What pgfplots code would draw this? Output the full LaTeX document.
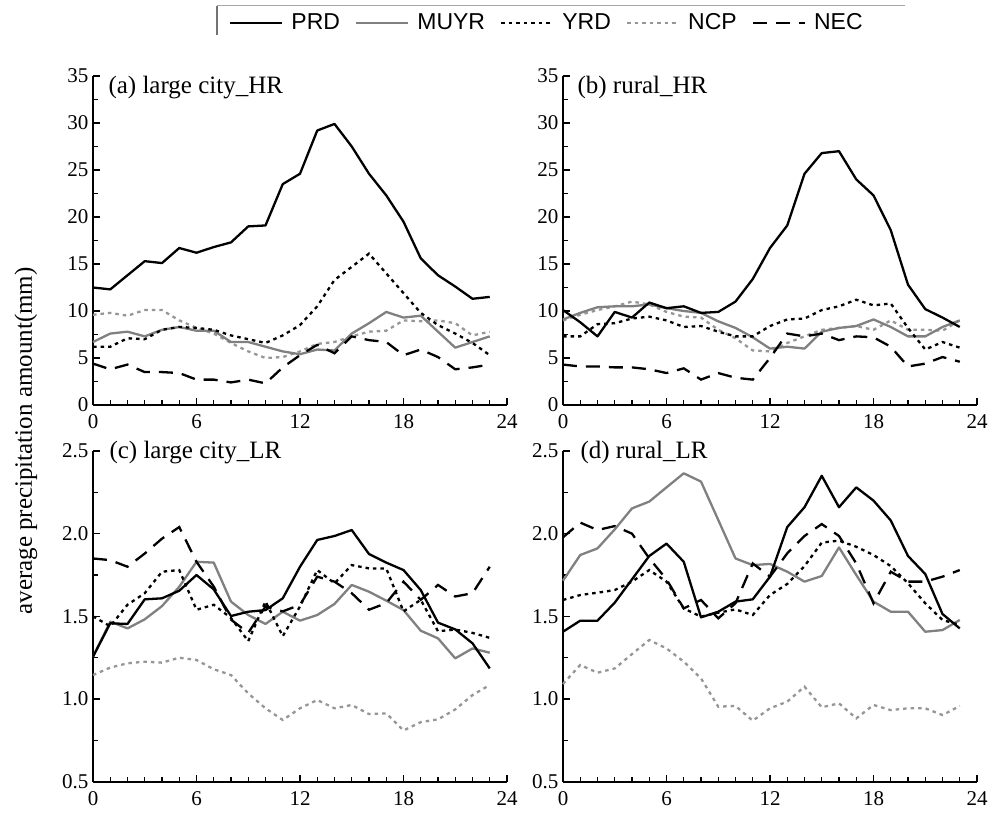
\documentclass[border=0pt]{standalone}
\usepackage{fontspec}
\setmainfont{Liberation Serif}
\newfontfamily\legfont{Liberation Sans}
\usepackage{pgfplots}
\usepackage{pgfplotstable}
\pgfplotsset{compat=1.18}

\definecolor{muyrgray}{RGB}{128,128,128}
\definecolor{ncpgray}{RGB}{150,150,150}

% (a) large city, HR
\pgfplotstableread{
h PRD MUYR YRD NCP NEC
0 12.5 6.7 6.2 9.6 4.4
1 12.3 7.6 6.2 9.8 3.8
2 13.8 7.8 7.1 9.5 4.3
3 15.3 7.3 7.0 10.1 3.5
4 15.1 8.0 8.0 10.1 3.5
5 16.7 8.3 8.3 9.0 3.4
6 16.2 7.9 8.2 8.2 2.7
7 16.8 7.9 8.0 7.6 2.7
8 17.3 6.7 7.4 6.6 2.4
9 19.0 6.7 7.0 5.7 2.7
10 19.1 6.2 6.6 5.0 2.3
11 23.5 5.7 7.4 5.1 4.0
12 24.6 5.4 8.5 5.7 5.3
13 29.2 5.9 10.5 6.5 6.4
14 29.9 5.8 13.3 6.7 5.5
15 27.5 7.6 14.7 7.3 7.3
16 24.6 8.7 16.1 7.8 6.9
17 22.3 9.9 14.0 7.9 6.7
18 19.5 9.3 11.9 9.0 5.3
19 15.6 9.5 9.8 8.9 5.9
20 13.8 7.8 8.5 9.0 5.1
21 12.6 6.1 7.6 8.7 3.8
22 11.3 6.7 6.6 7.4 4.0
23 11.5 7.3 5.3 7.8 4.3
}\tabA

% (b) rural, HR
\pgfplotstableread{
h PRD MUYR YRD NCP NEC
0 10.1 9.1 7.3 9.0 4.3
1 8.8 9.8 7.3 9.6 4.1
2 7.3 10.4 8.6 10.1 4.1
3 9.9 10.5 8.7 10.5 4.0
4 9.3 10.5 9.2 11.0 4.0
5 10.9 10.7 9.4 10.7 3.8
6 10.3 10.3 9.0 9.9 3.4
7 10.5 10.0 8.3 9.4 3.9
8 9.8 9.8 8.4 9.3 2.7
9 9.9 8.9 7.8 8.0 3.4
10 11.0 8.2 7.3 7.1 2.9
11 13.4 7.2 7.3 5.8 2.7
12 16.7 6.0 8.4 5.7 5.0
13 19.1 6.2 9.1 6.6 7.6
14 24.6 6.0 9.2 7.3 7.3
15 26.8 7.8 10.1 8.0 7.6
16 27.0 8.2 10.5 8.2 6.9
17 24.0 8.4 11.2 8.4 7.3
18 22.3 9.1 10.6 8.0 7.2
19 18.6 8.3 10.8 9.0 6.2
20 12.8 7.3 8.2 8.0 4.1
21 10.2 7.3 5.9 8.0 4.4
22 9.3 8.3 6.7 7.9 5.1
23 8.3 9.0 6.1 9.0 4.6
}\tabB

% (c) large city, LR
\pgfplotstableread{
h PRD MUYR YRD NCP NEC
0 1.256 1.256 1.50 1.145 1.85
1 1.458 1.468 1.44 1.19 1.84
2 1.454 1.427 1.57 1.216 1.80
3 1.603 1.482 1.64 1.226 1.88
4 1.609 1.562 1.77 1.22 1.97
5 1.655 1.679 1.78 1.25 2.04
6 1.75 1.83 1.54 1.236 1.83
7 1.663 1.825 1.57 1.18 1.68
8 1.502 1.589 1.49 1.145 1.48
9 1.528 1.508 1.35 1.034 1.40
10 1.538 1.454 1.59 0.944 1.56
11 1.609 1.528 1.38 0.873 1.53
12 1.80 1.474 1.56 0.944 1.57
13 1.962 1.508 1.78 0.994 1.74
14 1.986 1.575 1.70 0.944 1.71
15 2.022 1.69 1.81 0.964 1.64
16 1.877 1.649 1.79 0.909 1.54
17 1.825 1.595 1.79 0.913 1.58
18 1.78 1.538 1.53 0.81 1.71
19 1.659 1.413 1.60 0.86 1.60
20 1.462 1.367 1.41 0.877 1.69
21 1.421 1.246 1.42 0.937 1.62
22 1.337 1.306 1.40 1.024 1.64
23 1.185 1.28 1.37 1.085 1.80
}\tabC

% (d) rural, LR
\pgfplotstableread{
h PRD MUYR YRD NCP NEC
0 1.407 1.716 1.599 1.091 1.978
1 1.474 1.871 1.629 1.206 2.067
2 1.474 1.911 1.643 1.159 2.022
3 1.583 2.026 1.659 1.185 2.046
4 1.724 2.153 1.71 1.272 2.0
5 1.865 2.194 1.78 1.357 1.851
6 1.94 2.28 1.71 1.306 1.724
7 1.83 2.365 1.548 1.226 1.548
8 1.494 2.315 1.498 1.125 1.599
9 1.528 2.083 1.522 0.954 1.488
10 1.589 1.85 1.542 0.958 1.579
11 1.603 1.81 1.508 0.869 1.82
12 1.74 1.817 1.629 0.944 1.74
13 2.04 1.77 1.696 0.984 1.881
14 2.16 1.71 1.804 1.075 1.986
15 2.35 1.744 1.946 0.95 2.058
16 2.16 1.917 1.958 0.974 1.986
17 2.28 1.75 1.921 0.883 1.82
18 2.20 1.589 1.871 0.964 1.579
19 2.08 1.528 1.804 0.933 1.77
20 1.865 1.528 1.70 0.944 1.71
21 1.756 1.407 1.579 0.944 1.71
22 1.514 1.417 1.478 0.903 1.74
23 1.427 1.478 1.448 0.958 1.78
}\tabD

\pgfplotsset{
  prd/.style={black, line width=2.3pt, line join=round},
  muyr/.style={muyrgray, line width=2.3pt, line join=round},
  yrd/.style={black, line width=2.3pt, dash pattern=on 3.5pt off 4pt},
  ncp/.style={ncpgray, line width=2.3pt, dash pattern=on 3.5pt off 4pt},
  nec/.style={black, line width=2.3pt, dash pattern=on 14pt off 9pt},
  panel/.style={
    scale only axis, width=414pt, anchor=south west,
    xmin=0, xmax=24, xtick={0,6,12,18,24}, minor x tick num=5,
    axis x line*=bottom, axis y line*=left,
    axis line style={line width=2.4pt, -},
    tick align=inside, major tick length=7pt, minor tick length=5pt,
    tick style={black, line width=1.4pt},
    tick label style={font=\fontsize{21}{25}\selectfont},
    xticklabel style={yshift=-6pt},
    yticklabel style={xshift=-1pt},
    /pgf/number format/assume math mode=true,
    clip=false,
  },
  hr/.style={panel, height=329pt, ymin=0, ymax=35, ytick={0,5,...,35}, minor y tick num=1},
  lr/.style={panel, height=330.7pt, ymin=0.5, ymax=2.5, ytick={0.5,1.0,...,2.5}, minor y tick num=1,
    yticklabel style={/pgf/number format/fixed, /pgf/number format/fixed zerofill, /pgf/number format/precision=1}},
}

\newcommand{\allseries}[1]{%
  \addplot[ncp, forget plot] table[x=h, y=NCP] {#1};
  \addplot[muyr, forget plot] table[x=h, y=MUYR] {#1};
  \addplot[nec, forget plot] table[x=h, y=NEC] {#1};
  \addplot[yrd, forget plot] table[x=h, y=YRD] {#1};
  \addplot[prd, forget plot] table[x=h, y=PRD] {#1};
}

\begin{document}
\begin{tikzpicture}
\useasboundingbox (0,0) rectangle (999pt,812pt);

\begin{axis}[hr, at={(93pt,407pt)},
  legend style={at={(0.2995,1.162)}, anchor=west, draw=none, fill=none,
    font=\legfont\fontsize{23}{27}\selectfont, legend columns=5,
    /tikz/every odd column/.append style={column sep=6pt},
    /tikz/every even column/.append style={column sep=13pt}, inner xsep=12pt},
  legend image code/.code={\draw[#1] (0pt,0pt) -- (52pt,0pt);},
]
  \addlegendimage{prd} \addlegendentry{PRD}
  \addlegendimage{muyr} \addlegendentry{MUYR}
  \addlegendimage{yrd} \addlegendentry{YRD}
  \addlegendimage{ncp} \addlegendentry{NCP}
  \addlegendimage{nec} \addlegendentry{NEC}
  \allseries{\tabA}
  \node[anchor=base west, font=\fontsize{25}{30}\selectfont, xshift=12pt, yshift=-18pt] at (rel axis cs:0,1) {(a) large city\_HR};
\end{axis}

\begin{axis}[hr, at={(563pt,407pt)}]
  \allseries{\tabB}
  \node[anchor=base west, font=\fontsize{25}{30}\selectfont, xshift=11pt, yshift=-18pt] at (rel axis cs:0,1) {(b) rural\_HR};
\end{axis}

\begin{axis}[lr, at={(93pt,30.3pt)}]
  \allseries{\tabC}
  \node[anchor=base west, font=\fontsize{25}{30}\selectfont, xshift=13pt, yshift=-7pt] at (rel axis cs:0,1) {(c) large city\_LR};
\end{axis}

\begin{axis}[lr, at={(563pt,30.3pt)}]
  \allseries{\tabD}
  \node[anchor=base west, font=\fontsize{25}{30}\selectfont, xshift=14pt, yshift=-7pt] at (rel axis cs:0,1) {(d) rural\_LR};
\end{axis}

% legend frame (only top and left edges are visible in the original)
\draw[black!55, line width=1.2pt] (217pt,777pt) -- (217pt,806pt);
\draw[black!35, line width=1pt] (217pt,806pt) -- (905pt,806pt);

\node[rotate=90, font=\fontsize{25}{30}\selectfont] at (26pt,371pt) {average precipitation amount(mm)};
\end{tikzpicture}
\end{document}
